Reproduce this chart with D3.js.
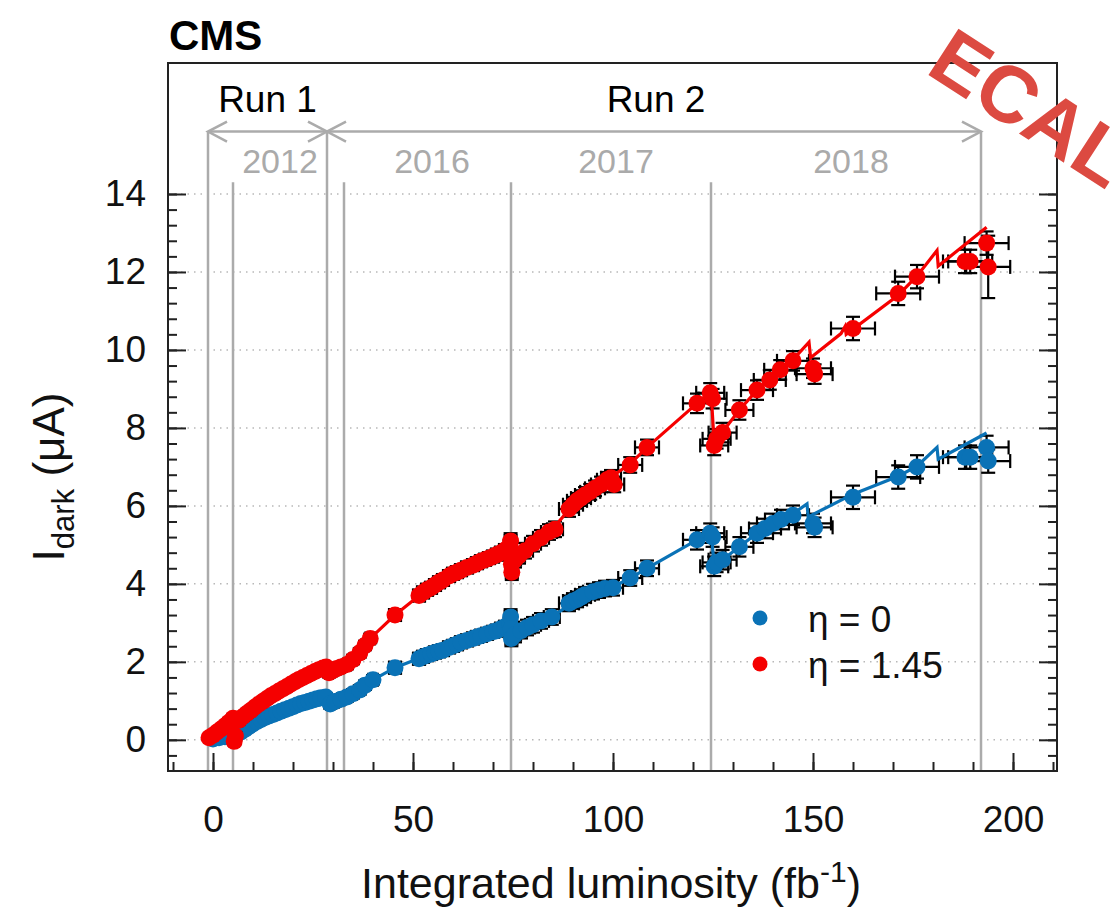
<!DOCTYPE html>
<html>
<head>
<meta charset="utf-8">
<script src="https://cdn.jsdelivr.net/npm/d3@7"></script>
<style>
  body { margin: 0; background: #fff; }
  svg { display: block; font-family: "Liberation Sans", Arial, sans-serif; }
</style>
</head>
<body>
<div id="chart"></div>
<script>
// luminosity (fb^-1), I_dark (uA), x error, y error
const bluePoints = [
  [0,0.02,0.6,0.08],[1.5,0.05,0.6,0.08],[3,0.08,0.6,0.08],[4.5,0.1,0.6,0.08],
  [5.8,0.14,0.8,0.1],[7,0.2,0.8,0.1],[8,0.27,0.8,0.1],[9,0.34,0.8,0.1],[10,0.41,0.8,0.1],
  [11,0.47,0.8,0.1],[12,0.52,0.8,0.1],[13,0.57,0.8,0.1],[14,0.61,0.8,0.1],[15,0.65,0.8,0.1],
  [16,0.69,0.8,0.1],[17,0.73,0.8,0.1],[18,0.77,0.8,0.1],[19,0.81,0.8,0.1],[20,0.85,0.8,0.1],
  [21,0.89,0.8,0.1],[22,0.93,0.8,0.1],[23,0.96,0.8,0.1],[24,0.99,0.8,0.1],[25,1.02,0.8,0.1],
  [26,1.05,0.8,0.1],[27,1.08,0.8,0.1],[28.2,1.1,0.8,0.1],
  [29.3,0.92,1,0.12],[30.5,0.98,1,0.12],[32,1.04,1,0.12],[33.5,1.1,1,0.12],[35,1.18,1,0.12],
  [36.7,1.28,1,0.12],[38,1.4,1,0.12],[40,1.54,1.2,0.12],[45.5,1.85,1.5,0.15],
  [51.5,2.08,1.5,0.15],[52.5,2.13,1.5,0.15],[53.5,2.17,1.5,0.15],[54.5,2.2,1.5,0.15],
  [55.5,2.24,1.5,0.15],[56.5,2.27,1.5,0.15],[57.5,2.3,1.5,0.15],[59,2.37,1.5,0.15],
  [60,2.41,1.5,0.15],[61,2.45,1.5,0.15],[62,2.5,1.5,0.15],[63.5,2.55,1.5,0.15],
  [65,2.6,1.5,0.15],[66,2.64,1.5,0.15],[67,2.67,1.5,0.15],[68.5,2.72,1.5,0.15],
  [70,2.77,1.5,0.15],[71,2.8,1.5,0.15],[72,2.85,1.5,0.15],[73,2.9,1.5,0.15],
  [74.2,2.97,1.5,0.15],[74.4,3.15,1.5,0.2],[74.5,2.85,1.5,0.2],[74.6,2.6,1.5,0.2],
  [75.5,2.7,1.5,0.2],[77,2.8,1.5,0.2],[78.5,2.88,2,0.2],[80,2.95,2,0.2],[82,3.05,2,0.2],
  [84.7,3.15,2,0.2],[89,3.5,2.5,0.2],[90,3.56,2.5,0.2],[91,3.6,2.5,0.2],[92,3.66,2.5,0.2],
  [93,3.72,2.5,0.2],[95,3.8,2.5,0.2],[96.5,3.84,2.5,0.2],[98,3.88,2.5,0.2],[100,3.9,2.5,0.2],
  [104.3,4.15,3,0.2],[108.5,4.4,3,0.2],[121,5.13,3.5,0.25],[124.3,5.3,3.5,0.25],[124.9,5.2,3.5,0.25],
  [125.3,4.45,3.5,0.25],[125.9,4.55,3.5,0.25],[127.4,4.62,3.5,0.25],[131.6,4.95,3.5,0.25],
  [136,5.3,4,0.25],[138,5.42,4,0.25],[140,5.55,4,0.25],[142,5.65,4,0.25],[145,5.76,4,0.25],
  [150,5.55,4.5,0.25],[150.4,5.45,4.5,0.25],[160,6.22,5.5,0.3],[171.3,6.74,5.5,0.3],
  [176,7.0,5.5,0.3],[188,7.25,5.5,0.3],[189.3,7.25,5.5,0.3],[193.4,7.5,5.5,0.3],[193.8,7.15,5.5,0.3]
];

const redPoints = [
  [-1,0.05,0.6,0.08],[0,0.12,0.6,0.08],[1,0.2,0.6,0.08],[2,0.28,0.6,0.08],[3,0.36,0.6,0.08],
  [4,0.45,0.6,0.1],[5,0.55,0.6,0.1],[5.3,-0.04,0.6,0.1],[5.6,0.1,0.6,0.1],
  [6.5,0.5,0.8,0.1],[7.5,0.6,0.8,0.1],[8.5,0.68,0.8,0.1],[9.5,0.76,0.8,0.1],[10.5,0.84,0.8,0.1],
  [11.5,0.92,0.8,0.1],[12.5,0.99,0.8,0.1],[13.5,1.06,0.8,0.1],[14.5,1.13,0.8,0.1],
  [15.5,1.19,0.8,0.1],[16.5,1.25,0.8,0.1],[17.5,1.31,0.8,0.1],[18.5,1.37,0.8,0.1],
  [19.5,1.43,0.8,0.1],[20.5,1.49,0.8,0.1],[21.5,1.55,0.8,0.1],[22.5,1.6,0.8,0.1],
  [23.5,1.65,0.8,0.1],[24.5,1.7,0.8,0.1],[25.5,1.75,0.8,0.1],[26.5,1.8,0.8,0.1],
  [27.5,1.84,0.8,0.1],[28.3,1.87,0.8,0.1],
  [29,1.72,1,0.12],[30,1.78,1,0.12],[31,1.83,1,0.12],[32,1.87,1,0.12],[33.5,1.93,1,0.12],
  [35,2.06,1,0.12],[36.7,2.23,1,0.12],[38,2.42,1,0.12],[39.3,2.6,1.2,0.12],[45.5,3.2,1.5,0.15],
  [51.5,3.7,1.5,0.15],[52.5,3.78,1.5,0.15],[53.5,3.85,1.5,0.15],[54.5,3.9,1.5,0.15],
  [55.5,3.97,1.5,0.15],[56.5,4.04,1.5,0.15],[57.5,4.1,1.5,0.15],[59,4.2,1.5,0.15],
  [60,4.26,1.5,0.15],[61,4.3,1.5,0.15],[62,4.35,1.5,0.15],[63.5,4.42,1.5,0.15],
  [65,4.48,1.5,0.15],[66,4.53,1.5,0.15],[67,4.58,1.5,0.15],[68,4.62,1.5,0.15],
  [69,4.66,1.5,0.15],[70,4.7,1.5,0.15],[71,4.75,1.5,0.15],[72,4.8,1.5,0.15],
  [73,4.87,1.5,0.15],[74.2,4.97,1.5,0.15],[74.4,5.1,1.5,0.2],[74.5,4.8,1.5,0.2],
  [74.6,4.5,1.5,0.2],[74.7,4.3,1.5,0.2],
  [75.5,4.62,1.5,0.2],[76.5,4.72,1.5,0.2],[78,4.85,2,0.2],[80,5.03,2,0.2],[82,5.18,2,0.2],
  [84,5.33,2,0.2],[85.5,5.4,2,0.2],[89,5.92,2.5,0.2],[90,6.03,2.5,0.2],[91,6.13,2.5,0.2],
  [92,6.2,2.5,0.2],[93,6.28,2.5,0.2],[94.3,6.36,2.5,0.2],[95.5,6.45,2.5,0.2],[97,6.55,2.5,0.2],
  [98.5,6.67,2.5,0.2],[99.5,6.72,2.5,0.2],[100.3,6.55,2.5,0.2],[104.3,7.05,3,0.2],
  [108.5,7.5,3,0.2],[121,8.63,3.5,0.25],[124.3,8.9,3.5,0.25],[124.9,8.75,3.5,0.25],
  [125.3,7.55,3.5,0.25],[125.9,7.72,3.5,0.25],[127.4,7.88,3.5,0.25],[131.6,8.46,3.5,0.25],
  [136,8.97,4,0.25],[139.2,9.23,4,0.25],[141.8,9.49,4,0.25],[145,9.72,4,0.25],
  [150,9.53,4.5,0.25],[150.4,9.38,4.5,0.25],[160,10.55,5.5,0.3],[171.3,11.45,5.5,0.3],
  [176,11.88,5.5,0.3],[188,12.27,5.5,0.3],[189.3,12.27,5.5,0.3],[193.4,12.74,5.5,0.3],
  [193.8,12.13,5.5,0.8]
];

// model curves (luminosity, current)
const blueFit = [
  [5,0.12],[12,0.52],[20,0.85],[27.5,1.08],[28.5,1.1],[29.3,0.92],[33.5,1.1],[36.7,1.28],
  [40,1.54],[45.5,1.85],[52.5,2.13],[57.5,2.3],[65,2.6],[70,2.77],[74.5,3.0],[74.6,2.62],
  [78.5,2.88],[84.7,3.15],[91,3.6],[95,3.8],[100,3.92],[104.3,4.15],[108.5,4.4],[121,5.13],
  [124.5,5.35],[125.3,4.48],[127.4,4.62],[131.6,4.95],[136,5.3],[140,5.55],[145,5.8],
  [148.5,6.05],[148.8,5.72],[160,6.3],[171.3,6.76],[176,7.02],[181,7.5],[181.3,7.2],[193.4,7.87]
];

const redFit = [
  [-1,0.05],[5,0.55],[5.3,0.0],[5.7,0.42],[12,0.95],[20,1.46],[26,1.78],[28.4,1.86],[29,1.72],
  [33.5,1.93],[36.7,2.23],[39.3,2.6],[45.5,3.2],[52.5,3.78],[57.5,4.1],[63.5,4.42],[70,4.7],
  [74.5,5.0],[74.6,4.45],[76.5,4.72],[80,5.03],[84.7,5.38],[91,6.15],[98.5,6.67],[104.3,7.08],
  [108.5,7.5],[121,8.63],[124.5,8.95],[125.3,7.6],[127.4,7.9],[131.6,8.46],[136,8.97],
  [141.8,9.49],[145,9.75],[149,10.2],[149.4,9.8],[157,10.42],[158,10.6],[158.3,10.4],
  [171.3,11.4],[176,11.9],[181,12.55],[181.3,12.15],[193.4,13.15]
];

const runBounds = [[-1.25, 28.5, "Run 1"], [28.5, 192, "Run 2"]];
const yearLines = [-1.25, 5, 28.5, 32.75, 74.5, 124.5, 192];
const runLines = [-1.25, 28.5, 192];
const yearLabels = [["2012", 16.75], ["2016", 54.75], ["2017", 100.75], ["2018", 159.5]];
const xMajor = [0, 50, 100, 150, 200];
const yMajor = [0, 2, 4, 6, 8, 10, 12, 14];
const legendItems = [["η = 0", "#0a72b6"], ["η = 1.45", "#f50000"]];

const W = 1120, H = 911;
const blueColor = "#0a72b6", redColor = "#f50000";

const svg = d3.select("#chart").append("svg").attr("width", W).attr("height", H);
svg.append("rect").attr("width", W).attr("height", H).attr("fill", "#fff");

const x = d3.scaleLinear().domain([-11.25, 211]).range([168, 1057]);
const y = d3.scaleLinear().domain([-0.8, 17.36]).range([771, 63]);

// dotted grid
svg.append("g").selectAll("line").data(yMajor).join("line")
  .attr("x1", x.range()[0]).attr("x2", x.range()[1])
  .attr("y1", d => y(d)).attr("y2", d => y(d))
  .attr("stroke", "#b8b8b8").attr("stroke-width", 1.5).attr("stroke-dasharray", "1.5,5");

// year / run separators
const arrowY = 15.6, lineTop = 14.3;
svg.append("g").selectAll("line").data(yearLines).join("line")
  .attr("x1", d => x(d)).attr("x2", d => x(d))
  .attr("y1", d => runLines.includes(d) ? y(arrowY) : y(lineTop))
  .attr("y2", y(-0.8))
  .attr("stroke", "#ababab").attr("stroke-width", 2.5);

const arr = svg.append("g").attr("stroke", "#ababab").attr("stroke-width", 2.5).attr("fill", "none");
runBounds.forEach(([a, b, name]) => {
  const ya = y(arrowY);
  arr.append("line").attr("x1", x(a)).attr("x2", x(b)).attr("y1", ya).attr("y2", ya);
  arr.append("path").attr("d", `M${x(a) + 19},${ya - 10}L${x(a)},${ya}L${x(a) + 19},${ya + 10}`);
  arr.append("path").attr("d", `M${x(b) - 19},${ya - 10}L${x(b)},${ya}L${x(b) - 19},${ya + 10}`);
  svg.append("text").attr("x", x((a + b) / 2) + (name === "Run 1" ? 0 : 2)).attr("y", y(16.1))
    .attr("text-anchor", "middle").attr("font-size", 37).attr("fill", "#000").text(name);
});

svg.append("g").selectAll("text").data(yearLabels).join("text")
  .attr("x", d => x(d[1])).attr("y", y(14.55))
  .attr("text-anchor", "middle").attr("font-size", 34).attr("fill", "#aaa")
  .text(d => d[0]);

// axes
const yMinor = d3.range(-1, 36).map(i => +(i * 0.4).toFixed(1)).filter(v => v > -0.8 && v <= 14);
const xMinor = d3.range(-1, 22).map(i => i * 10);

svg.append("g").attr("transform", `translate(${x.range()[0]},0)`)
  .call(d3.axisLeft(y).tickValues(yMinor).tickSize(-9).tickFormat(""))
  .call(g => g.select(".domain").remove());
svg.append("g").attr("transform", `translate(${x.range()[0]},0)`)
  .call(d3.axisLeft(y).tickValues(yMajor).tickSize(-18).tickPadding(22))
  .call(g => g.select(".domain").remove());
svg.append("g").attr("transform", `translate(${x.range()[1]},0)`)
  .call(d3.axisRight(y).tickValues(yMinor).tickSize(-9).tickFormat(""))
  .call(g => g.select(".domain").remove());
svg.append("g").attr("transform", `translate(${x.range()[1]},0)`)
  .call(d3.axisRight(y).tickValues(yMajor).tickSize(-18).tickFormat(""))
  .call(g => g.select(".domain").remove());
svg.append("g").attr("transform", `translate(0,${y.range()[0]})`)
  .call(d3.axisBottom(x).tickValues(xMinor).tickSize(-9).tickFormat(""))
  .call(g => g.select(".domain").remove());
svg.append("g").attr("transform", `translate(0,${y.range()[0]})`)
  .call(d3.axisBottom(x).tickValues(xMajor).tickSize(-18).tickPadding(35))
  .call(g => g.select(".domain").remove());

svg.selectAll(".tick line").attr("stroke", "#222").attr("stroke-width", 2);
svg.selectAll(".tick text").attr("font-size", 37).attr("fill", "#111")
  .attr("font-family", "Liberation Sans, Arial, sans-serif");

svg.append("rect")
  .attr("x", x.range()[0]).attr("y", y.range()[1])
  .attr("width", x.range()[1] - x.range()[0]).attr("height", y.range()[0] - y.range()[1])
  .attr("fill", "none").attr("stroke", "#222").attr("stroke-width", 2);

// series
function drawSeries(points, fit, color) {
  const g = svg.append("g");
  const eb = g.append("g").attr("stroke", "#000").attr("stroke-width", 2.2);
  points.forEach(([l, v, ex, ey]) => {
    const px = x(l), py = y(v);
    eb.append("line").attr("x1", x(l - ex)).attr("x2", x(l + ex)).attr("y1", py).attr("y2", py);
    eb.append("line").attr("x1", x(l - ex)).attr("x2", x(l - ex)).attr("y1", py - 7).attr("y2", py + 7);
    eb.append("line").attr("x1", x(l + ex)).attr("x2", x(l + ex)).attr("y1", py - 7).attr("y2", py + 7);
    eb.append("line").attr("x1", px).attr("x2", px).attr("y1", y(v - ey)).attr("y2", y(v + ey));
    eb.append("line").attr("x1", px - 7).attr("x2", px + 7).attr("y1", y(v - ey)).attr("y2", y(v - ey));
    eb.append("line").attr("x1", px - 7).attr("x2", px + 7).attr("y1", y(v + ey)).attr("y2", y(v + ey));
  });
  g.append("path").datum(fit)
    .attr("d", d3.line().x(d => x(d[0])).y(d => y(d[1])))
    .attr("fill", "none").attr("stroke", color).attr("stroke-width", 3.2);
  g.append("g").selectAll("circle").data(points).join("circle")
    .attr("cx", d => x(d[0])).attr("cy", d => y(d[1])).attr("r", 8.5)
    .attr("fill", color);
}
drawSeries(bluePoints, blueFit, blueColor);
drawSeries(redPoints, redFit, redColor);

// legend
const leg = svg.append("g");
legendItems.forEach(([label, color], i) => {
  leg.append("circle").attr("cx", 760).attr("cy", 618 + i * 46).attr("r", 7.5).attr("fill", color);
  leg.append("text").attr("x", 808).attr("y", 632 + i * 46).attr("font-size", 37).attr("fill", "#111").text(label);
});

// titles
svg.append("text").attr("x", 611).attr("y", 898).attr("text-anchor", "middle")
  .attr("font-size", 43).attr("fill", "#111")
  .html('Integrated luminosity (fb<tspan dy="-16" font-size="30">-1</tspan><tspan dy="16">)</tspan>');

svg.append("text").attr("transform", "translate(64,477) rotate(-90)").attr("text-anchor", "middle")
  .attr("font-size", 44).attr("fill", "#111")
  .html('I<tspan dy="10" font-size="31">dark</tspan><tspan dy="-10"> (μA)</tspan>');

svg.append("text").attr("x", 169).attr("y", 50).attr("font-size", 42).attr("font-weight", "bold")
  .attr("fill", "#000").text("CMS");

svg.append("text").attr("transform", "translate(924,72) rotate(33)")
  .attr("font-size", 80).attr("font-weight", "bold")
  .attr("fill", "#dc4a41").text("ECAL");
</script>
</body>
</html>
